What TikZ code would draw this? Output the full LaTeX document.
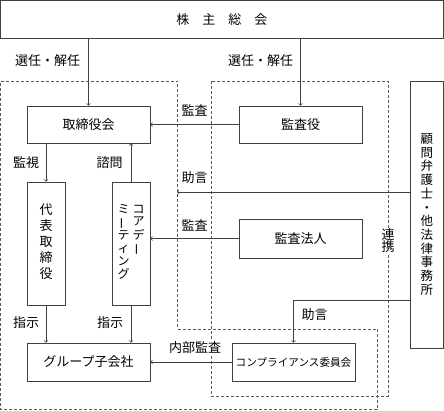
\documentclass[tikz,border=0pt]{standalone}
\usepackage{fontspec}
\setmainfont{Noto Sans CJK JP}

\begin{document}
\begin{tikzpicture}[x=1pt,y=-1pt,
    box/.style={draw=black!75,line width=0.7pt,inner sep=0pt,font=\fontsize{13}{16}\selectfont},
    lbl/.style={fill=white,inner sep=1pt,font=\fontsize{13}{16}\selectfont},
    arr/.style={->,draw=black!75,line width=0.7pt},
    zone/.style={draw=black!65,line width=0.6pt,dash pattern=on 3pt off 2pt}]
    \useasboundingbox (0,0) rectangle (444,411);
    % 绘制虚线区域
    \draw[zone] (0.5,81) -- (177,81) -- (177,329) -- (377,329) -- (377,409.5) -- (0.5,409.5) -- cycle;
    \draw[zone] (211,81) rectangle (388,396);
    % 绘制方框
    \node[box,minimum width=443pt,minimum height=37.5pt] (soukai) at (221.75,19.25) {株\hspace{1em}主\hspace{1em}総\hspace{1em}会};
    \node[box,minimum width=123pt,minimum height=37pt] (torishimari) at (88.5,124.5) {取締役会};
    \node[box,minimum width=123pt,minimum height=37pt] (kansayaku) at (300.5,124.5) {監査役};
    \node[box,minimum width=38pt,minimum height=123pt] (daihyo) at (46,243.5)
        {\raisebox{-5pt}{\begin{tabular}{@{}c@{}}代\\表\\取\\締\\役\end{tabular}}};
    \node[box,minimum width=38pt,minimum height=123pt,font=\fontsize{12}{12.5}\selectfont] (core) at (131,243.5)
        {\begin{tabular}{@{}c@{\hspace{3pt}}c@{}}
            ミ & コ\\
            \rotatebox[origin=c]{90}{ー} & ア\\
            テ & デ\\
            ィ & \rotatebox[origin=c]{90}{ー}\\
            ン & \\
            グ &
        \end{tabular}};
    \node[box,minimum width=123pt,minimum height=39pt] (hojin) at (300.5,238.5) {監査法人};
    \node[box,minimum width=123pt,minimum height=38pt] (group) at (88.5,362) {グループ子会社};
    \node[box,minimum width=123pt,minimum height=38pt,font=\fontsize{10.6}{12}\selectfont] (comp) at (293.5,362) {コンプライアンス委員会};
    \node[box,minimum width=33pt,minimum height=267pt,align=center,font=\fontsize{12.5}{13.7}\selectfont] (komon) at (426.75,214.5)
        {顧\\問\\弁\\護\\士\\・\\他\\法\\律\\事\\務\\所};
    % 绘制箭头
    \draw[arr] (soukai.south -| torishimari.north) -- (torishimari.north);
    \draw[arr] (soukai.south -| kansayaku.north) -- (kansayaku.north);
    \draw[arr] (kansayaku.west) -- (torishimari.east);
    \draw[arr] (torishimari.south -| daihyo.north) -- (daihyo.north);
    \draw[arr] (core.north) -- (core.north |- torishimari.south);
    \coordinate (jogen) at (177,192);
    \draw[arr] (komon.west |- jogen) -- (jogen);
    \draw[arr] (hojin.west) -- (hojin.west -| core.east);
    \draw[arr] (daihyo.south) -- (daihyo.south |- group.north);
    \draw[arr] (core.south) -- (core.south |- group.north);
    \coordinate (komonout) at (410,300);
    \draw[arr] (komon.west |- komonout) -| (comp.north);
    \draw[arr] (comp.west) -- (group.east);
    % 标记文字
    \node[lbl] (senin1) at (47.5,61) {選任・解任};
    \node[lbl] (senin2) at (260.5,61) {選任・解任};
    \node[lbl] (kansa1) at (194.5,110) {監査};
    \node[lbl] (kanshi) at (26,163) {監視};
    \node[lbl] (shimon) at (109.5,163) {諮問};
    \node[lbl] (jogen1) at (194.5,178) {助言};
    \node[lbl] (kansa2) at (194.5,225) {監査};
    \node[lbl,align=center,font=\fontsize{13}{12}\selectfont] (renkei) at (388,241) {連\\携};
    \node[lbl] (shiji1) at (26,323) {指示};
    \node[lbl] (shiji2) at (110,323) {指示};
    \node[lbl] (jogen2) at (314.5,315) {助言};
    \node[lbl] (naibu) at (195,348) {内部監査};
\end{tikzpicture}
\end{document}
